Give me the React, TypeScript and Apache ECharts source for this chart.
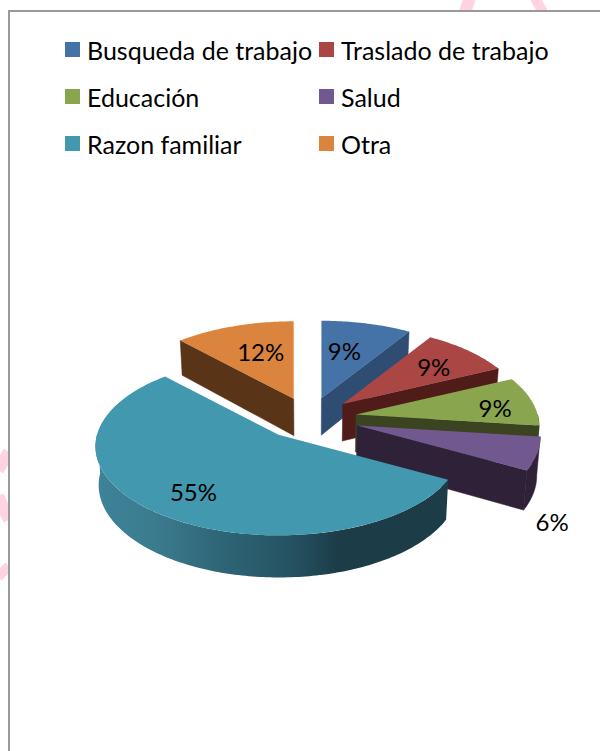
import React, { useEffect, useRef } from "react";
import * as echarts from "echarts";

const categories = ["Busqueda de trabajo", "Traslado de trabajo", "Educación", "Salud", "Razon familiar", "Otra"];
const shares = [9, 9, 9, 6, 55, 12];
const leftLegend = ["Busqueda de trabajo", "Educación", "Razon familiar"];
const rightLegend = ["Traslado de trabajo", "Salud", "Otra"];
const topColors = ["#4572A7", "#AA4643", "#89A54E", "#71588F", "#4198AF", "#DB843D"];
const sideColors = ["#2F4D73", "#4F1C1A", "#3A4420", "#2E2138", "#1C3C48", "#5A3417"];
// how far each slice is pulled out of the pie, as a share of the radius
const explode = [0.265, 0.265, 0.265, 0.265, 0.25, 0.265];
// small vertical nudge per slice, in pixels
const lift = [0, 0, 0, 0, -2.5, 0];
// label offsets from each slice's apex, in pixels
const labelOffsetX = [23, 91, 139, 195, -85, -33];
const labelOffsetY = [-48, -37, -7, 96, 57, -47];

const CX = 309.5;
const CY = 418;
const RX = 181.5;
const RY = 87.5;
const PERSPECTIVE = 0.13;
const FONT = "Lato, Carlito, sans-serif";

const rad = (d: number) => (d * Math.PI) / 180;
const total = shares.reduce((a, b) => a + b, 0);

function apexOf(mid: number, e: number, dy: number): number[] {
  const X = Math.sin(rad(mid));
  const Y = -Math.cos(rad(mid));
  const f = 1 / (1 + PERSPECTIVE * Math.cos(rad(mid)));
  return [CX + e * RX * X * f, CY + e * RY * Y * f + dy];
}
function rimPoint(apex: number[], deg: number): number[] {
  const c = Math.cos(rad(deg));
  const f = 1 / (1 + PERSPECTIVE * c);
  return [apex[0] + RX * Math.sin(rad(deg)) * f, apex[1] - RY * c * f];
}
function drop(p: number[]): number[] {
  const depth = 37 + (p[1] - 400) * 0.038;
  return [CX + (p[0] - CX) * 0.985, p[1] + depth];
}
function arc(apex: number[], from: number, to: number): number[][] {
  const pts: number[][] = [];
  const n = Math.max(2, Math.ceil(Math.abs(to - from)));
  for (let i = 0; i <= n; i++) pts.push(rimPoint(apex, from + ((to - from) * i) / n));
  return pts;
}

function makeRenderItem(index: number) {
  return () => {
    const before = shares.slice(0, index).reduce((a, b) => a + b, 0);
    const a0 = (before / total) * 360;
    const a1 = ((before + shares[index]) / total) * 360;
    const apex = apexOf((a0 + a1) / 2, explode[index], lift[index]);
    const side = sideColors[index];
    const children: any[] = [];
    const quad = (deg: number) => {
      const e = rimPoint(apex, deg);
      return {
        type: "polygon",
        shape: { points: [apex, e, drop(e), drop(apex)] },
        style: { fill: side, stroke: side, lineWidth: 0.5 },
      };
    };
    if (Math.sin(rad(a1)) > 0.01) children.push(quad(a1));
    if (-Math.sin(rad(a0)) > 0.01) children.push(quad(a0));
    const w0 = Math.max(a0, 90);
    const w1 = Math.min(a1, 270);
    if (w1 > w0) {
      const rim = arc(apex, w0, w1);
      const lower = rim.map(drop).reverse();
      const wallFill =
        index === 4
          ? new echarts.graphic.LinearGradient(0, 0, 1, 0, [
              { offset: 0, color: "#3E8399" },
              { offset: 0.17, color: "#3B7B8E" },
              { offset: 0.36, color: "#2E6576" },
              { offset: 0.55, color: "#255362" },
              { offset: 0.69, color: "#1C3C48" },
              { offset: 1, color: "#1C3C48" },
            ])
          : side;
      children.push({
        type: "polygon",
        shape: { points: [...rim, ...lower] },
        style: { fill: wallFill, stroke: index === 4 ? undefined : side, lineWidth: 0.5 },
      });
    }
    children.push({
      type: "polygon",
      shape: { points: [apex, ...arc(apex, a0, a1)] },
      style: { fill: topColors[index] },
    });
    children.push({
      type: "text",
      style: {
        x: apex[0] + labelOffsetX[index],
        y: apex[1] + labelOffsetY[index],
        text: `${Math.round((shares[index] / total) * 100)}%`,
        fill: "#000",
        font: `24px ${FONT}`,
        align: "center",
        verticalAlign: "middle",
      },
    });
    return { type: "group", children };
  };
}

function App() {
  const ref = useRef<HTMLDivElement>(null);
  useEffect(() => {
    if (!ref.current) return;
    const chart = echarts.init(ref.current, undefined, { renderer: "svg" });
    const pink = "#FFD3DF";
    const grey = "#999999";
    const stripe = (x1: number, y1: number, x2: number, y2: number, w: number) => ({
      type: "line",
      silent: true,
      z: 0,
      shape: { x1, y1, x2, y2 },
      style: { stroke: pink, lineWidth: w },
    });
    const legendBase = {
      orient: "vertical" as const,
      top: 37,
      padding: 0,
      itemWidth: 15,
      itemHeight: 15,
      itemGap: 22,
      selectedMode: false,
      icon: "rect",
      textStyle: { fontFamily: FONT, fontSize: 25, color: "#000", lineHeight: 15, padding: [0, 0, 0, 2] },
    };
    chart.setOption({
      animation: false,
      backgroundColor: "#fff",
      legend: [
        { ...legendBase, left: 65, data: leftLegend },
        { ...legendBase, left: 319, data: rightLegend },
      ],
      graphic: [
        stripe(470, -2, 465, 12, 12),
        stripe(535, -2, 543, 12, 10),
        stripe(9, 452, -2, 470, 12),
        stripe(-2, 496, 9, 520, 12),
        stripe(9, 566, -2, 577, 10),
        { type: "rect", silent: true, z: 1, shape: { x: 9, y: 11, width: 600, height: 750 }, style: { fill: "#fff", stroke: grey, lineWidth: 2 } },
      ],
      series: categories.map((name, i) => ({
        type: "custom",
        name,
        coordinateSystem: "none",
        z: 3,
        silent: true,
        itemStyle: { color: topColors[i] },
        data: [shares[i]],
        renderItem: makeRenderItem(i),
      })),
    });
    return () => chart.dispose();
  }, []);
  return <div ref={ref} style={{ position: "absolute", left: 0, top: 0, width: 600, height: 751 }} />;
}

export default App;
